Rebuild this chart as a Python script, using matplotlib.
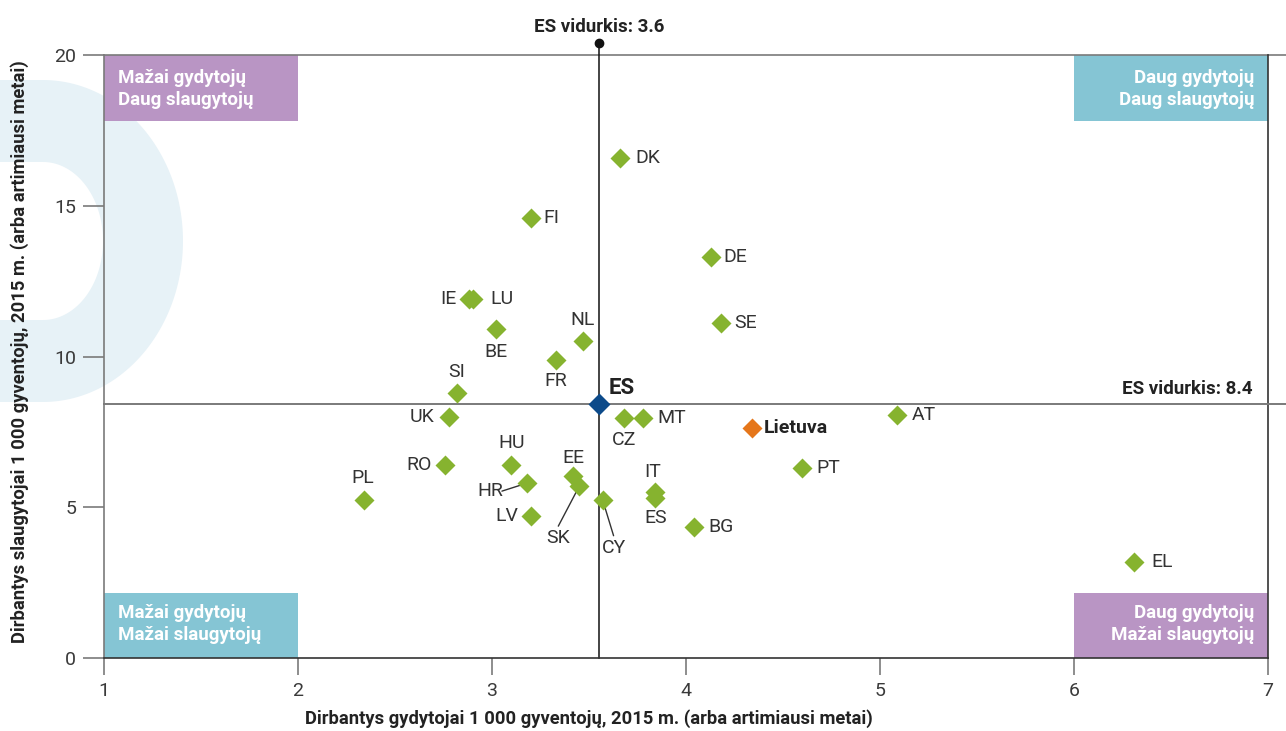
import matplotlib
matplotlib.use("Agg")
import matplotlib.pyplot as plt
import numpy as np
from matplotlib.patches import Rectangle, Polygon

plt.rcParams['font.family'] = ['Roboto', 'DejaVu Sans']

# ---- data ----
countries = ["DK", "FI", "DE", "IE", "LU", "BE", "SE", "NL", "FR", "SI", "UK", "CZ", "MT",
             "RO", "HU", "HR", "EE", "SK", "LV", "CY", "IT", "ES", "BG", "PL", "AT", "PT", "EL"]
doctors = [3.66, 3.20, 4.13, 2.88, 2.90, 3.02, 4.18, 3.47, 3.33, 2.82, 2.78, 3.68, 3.78,
           2.76, 3.10, 3.18, 3.42, 3.45, 3.20, 3.57, 3.84, 3.84, 4.04, 2.34, 5.09, 4.60, 6.31]
nurses = [16.6, 14.6, 13.3, 11.9, 11.9, 10.9, 11.1, 10.5, 9.9, 8.8, 8.0, 7.95, 7.95,
          6.4, 6.4, 5.8, 6.05, 5.7, 4.7, 5.25, 5.5, 5.3, 4.35, 5.25, 8.05, 6.3, 3.2]
lt_doctors, lt_nurses = 4.34, 7.63
eu_doctors, eu_nurses = 3.55, 8.42
eu_doc_label, eu_nur_label = "3.6", "8.4"

x_ticks = [1, 2, 3, 4, 5, 6, 7]
y_ticks = [0, 5, 10, 15, 20]

# label placement: (dx, dy) offset in pixels, ha
label_pos = {
    "DK": (15, 0, "left"), "FI": (13, 0, "left"), "DE": (12, 0, "left"),
    "IE": (-12, 0, "right"), "LU": (18, 0, "left"), "BE": (0, -23, "center"),
    "SE": (13, 0, "left"), "NL": (-1, 21, "center"), "FR": (0, -21, "center"),
    "SI": (0, 21, "center"), "UK": (-15, 0, "right"), "CZ": (0, -22, "center"),
    "MT": (14, 0, "left"), "RO": (-14, 0, "right"), "HU": (0, 22, "center"),
    "EE": (0, 18, "center"), "IT": (-2, 20, "center"), "ES": (1, -20, "center"),
    "BG": (15, 0, "left"), "PL": (-1, 22, "center"), "AT": (14, 0, "left"),
    "PT": (14, 0, "left"), "EL": (17, 0, "left"), "LV": (-13, 0, "right"),
}
leader_pos = {  # text offset in pixels
    "HR": (-37, -8),
    "SK": (-21, -52),
    "CY": (11, -48),
}

W, H = 1286, 731
fig = plt.figure(figsize=(W / 100, H / 100), dpi=100)

# decorative background "D" shape
cx, cy = 43, 241
t = np.linspace(-np.pi / 2, np.pi / 2, 100)
outer = np.column_stack([cx + 140 * np.cos(t), cy + 161 * np.sin(t)])
inner = np.column_stack([cx + 60 * np.cos(t[::-1]), cy + 79 * np.sin(t[::-1])])
pts = np.vstack([[[0, cy - 161]], outer, [[0, cy + 161]], [[0, cy + 79]], inner, [[0, cy - 79]]])
pts_fig = np.column_stack([pts[:, 0] / W, 1 - pts[:, 1] / H])
fig.patches.append(Polygon(pts_fig, closed=True, transform=fig.transFigure,
                           facecolor="#e7f2f7", edgecolor="none", zorder=-5))

ax = fig.add_axes([104 / W, 1 - 658 / H, 1164 / W, 603 / H])
ax.set_zorder(2)
ax.patch.set_alpha(0)
ax.set_xlim(1, 7)
ax.set_ylim(0, 20)

for s in ["top", "right"]:
    ax.spines[s].set_visible(False)
ax.spines["left"].set_color("#7a7a7a")
ax.spines["bottom"].set_color("#333333")
ax.spines["left"].set_linewidth(1.2)
ax.spines["bottom"].set_linewidth(1.2)

ax.set_xticks(x_ticks)
ax.set_yticks(y_ticks)
ax.tick_params(axis="y", length=15, width=1.2, color="#7a7a7a", labelsize=14,
               labelcolor="#3a3a3a", pad=5)
ax.tick_params(axis="x", length=12, width=1.2, color="#7a7a7a", labelsize=14,
               labelcolor="#3a3a3a", pad=5)

# frame lines
ax.plot([0, 1.0155], [1, 1], transform=ax.transAxes, color="#7a7a7a", lw=1.2, clip_on=False, zorder=2)
ax.plot([1, 1], [0, 1], transform=ax.transAxes, color="#333333", lw=1.2, clip_on=False, zorder=2)

# quadrant boxes
purple, teal = "#b995c4", "#85c5d4"
box_h = 2.2
ax.add_patch(Rectangle((1, 20 - box_h), 1, box_h, facecolor=purple, edgecolor="none", zorder=1))
ax.add_patch(Rectangle((6, 20 - box_h), 1, box_h, facecolor=teal, edgecolor="none", zorder=1))
ax.add_patch(Rectangle((1, 0), 1, 2.15, facecolor=teal, edgecolor="none", zorder=1))
ax.add_patch(Rectangle((6, 0), 1, 2.15, facecolor=purple, edgecolor="none", zorder=1))
box_kw = dict(color="white", fontsize=13.5, fontweight="bold", linespacing=1.3, zorder=3)
ax.text(1.072, 19.55, "Mažai gydytojų\nDaug slaugytojų", ha="left", va="top", **box_kw)
ax.text(6.93, 19.55, "Daug gydytojų\nDaug slaugytojų", ha="right", va="top", **box_kw)
ax.text(1.072, 1.8, "Mažai gydytojų\nMažai slaugytojų", ha="left", va="top", **box_kw)
ax.text(6.93, 1.8, "Daug gydytojų\nMažai slaugytojų", ha="right", va="top", **box_kw)

# mean lines
ax.plot([eu_doctors, eu_doctors], [0, 1.0199], transform=ax.get_xaxis_transform(),
        color="#111111", lw=1.1, clip_on=False, zorder=2)
ax.plot([eu_doctors], [1.0199], transform=ax.get_xaxis_transform(), marker="o",
        color="#111111", ms=6, clip_on=False, zorder=3)
ax.plot([0, 1.0155], [eu_nurses, eu_nurses], transform=ax.get_yaxis_transform(),
        color="#7a7a7a", lw=1.4, clip_on=False, zorder=2)
ax.text(eu_doctors, 1.047, f"ES vidurkis: {eu_doc_label}", transform=ax.get_xaxis_transform(),
        ha="center", va="center", fontsize=13.5, fontweight="bold", color="#222222")
ax.text(6.92, eu_nurses + 0.5, f"ES vidurkis: {eu_nur_label}", ha="right", va="center",
        fontsize=13.5, fontweight="bold", color="#222222")

# points
green = "#86b32f"
ax.plot(doctors, nurses, "D", color=green, ms=10, mec="none", zorder=4, clip_on=False)
ax.plot([lt_doctors], [lt_nurses], "D", color="#e5761a", ms=10, mec="none", zorder=5)
ax.plot([eu_doctors], [eu_nurses], "D", color="#0c4a8a", ms=11, mec="none", zorder=5)

lab_kw = dict(fontsize=14, color="#333333", zorder=6)
for c, x, y in zip(countries, doctors, nurses):
    if c in label_pos:
        dx, dy, ha = label_pos[c]
        ax.annotate(c, (x, y), xytext=(dx, dy), textcoords="offset pixels",
                    ha=ha, va="center", **lab_kw)
    elif c in leader_pos:
        tx, ty = leader_pos[c]
        ax.annotate(c, (x, y), xytext=(tx, ty), textcoords="offset pixels",
                    ha="center", va="center", **lab_kw)
        lx = tx + (12 if c == "HR" else 0)
        ly = ty + (0 if c == "HR" else 12)
        ax.annotate("", xy=(x, y), xytext=(lx, ly), textcoords="offset pixels",
                    arrowprops=dict(arrowstyle="-", color="#333333", lw=1,
                                    shrinkA=0, shrinkB=5), zorder=3)

ax.annotate("Lietuva", (lt_doctors, lt_nurses), xytext=(12, 0), textcoords="offset pixels",
            ha="left", va="center", fontsize=14, fontweight="bold", color="#222222")
ax.annotate("ES", (eu_doctors, eu_nurses), xytext=(10, 16), textcoords="offset pixels",
            ha="left", va="center", fontsize=16, fontweight="bold", color="#222222")

fig.text(589 / W, 1 - 719 / H, "Dirbantys gydytojai 1 000 gyventojų, 2015 m. (arba artimiausi metai)",
         ha="center", va="center", fontsize=13.2, fontweight="bold", color="#222222")
fig.text(20 / W, 1 - 352 / H, "Dirbantys slaugytojai 1 000 gyventojų, 2015 m. (arba artimiausi metai)",
         ha="center", va="center", rotation=90, fontsize=13.2, fontweight="bold", color="#222222")

fig.savefig("out.png", dpi=100)
